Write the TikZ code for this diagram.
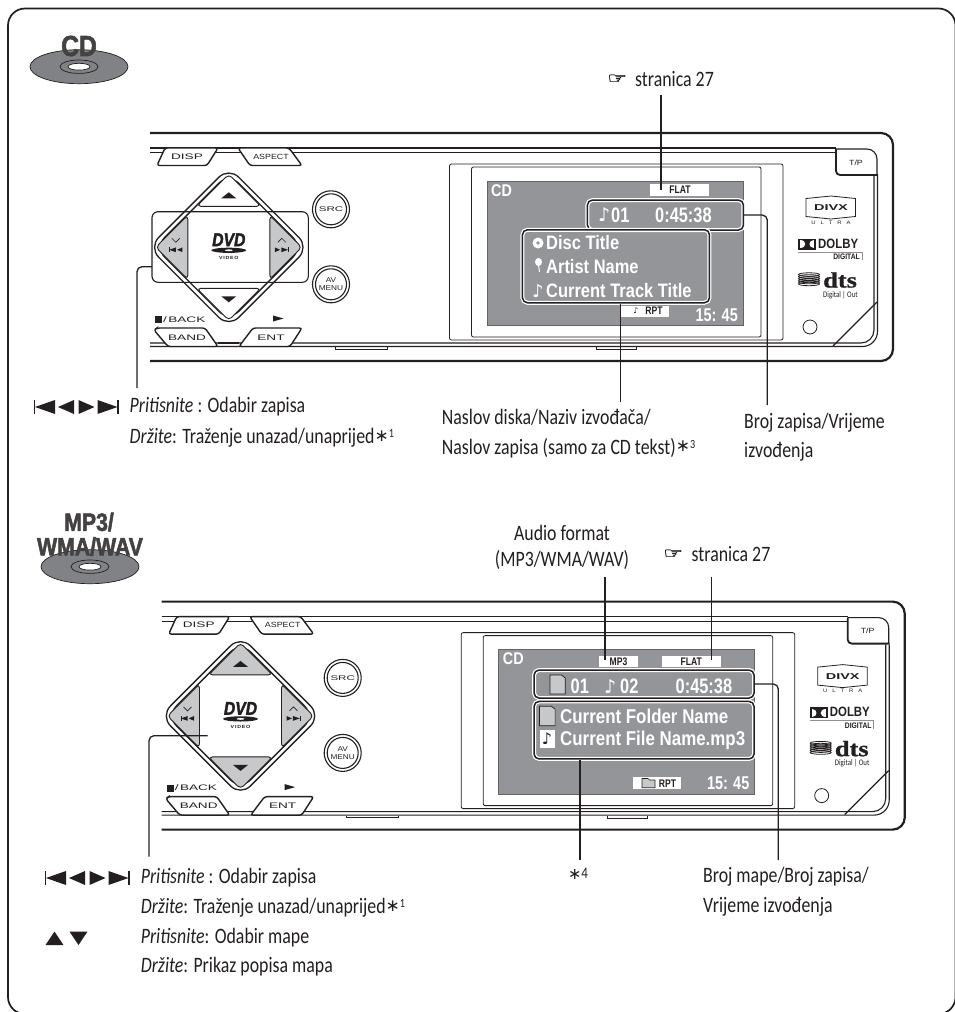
\documentclass[tikz,border=0pt]{standalone}
\usepackage{fontspec}
\usepackage{xcolor}
\usetikzlibrary{calc}
\setmainfont[FakeStretch=0.81]{Carlito}
\newfontfamily\panelfont[FakeStretch=1.7]{Liberation Sans}
\newfontfamily\panelslim[FakeStretch=1.18]{Liberation Sans}
\newfontfamily\lcdfont[FakeStretch=0.845]{Liberation Sans}
\newfontfamily\lcdbig[FakeStretch=0.78]{Liberation Sans}
\newfontfamily\iconfont[FakeStretch=0.85,FakeBold=2]{Liberation Sans}
\newfontfamily\dtsfont[FakeStretch=1.2,FakeBold=1]{Liberation Serif}
\newfontfamily\symfont{DejaVu Sans}
\newfontfamily\handfont[FakeStretch=1.5,FakeBold=1.5]{DejaVu Sans}
\definecolor{lcd}{HTML}{939598}
\definecolor{btn}{HTML}{C7C8CA}
\definecolor{disc}{HTML}{808285}
\definecolor{ink}{HTML}{231F20}
\tikzset{
  body/.style={anchor=west,inner sep=0pt,text=ink,font=\fontsize{22}{24}\selectfont},
  panel/.style={inner sep=0pt,text=ink,font=\panelfont\fontsize{8}{9}\selectfont},
  panelsmall/.style={inner sep=0pt,text=ink,font=\panelslim\fontsize{7.5}{8.5}\selectfont},
  lcdtxt/.style={anchor=west,inner sep=0pt,text=white,font=\lcdfont\bfseries\fontsize{19.5}{21}\selectfont},
  lcdnum/.style={anchor=west,inner sep=0pt,text=white,font=\lcdbig\bfseries\fontsize{21}{21}\selectfont},
  tag/.style={inner sep=0pt,text=ink,font=\lcdbig\bfseries\fontsize{11}{11}\selectfont},
  tagbox/.style={fill=white,inner sep=0pt},
  infobox/.style={draw=ink,line width=1.5pt,rounded corners=5pt,inner sep=0pt,anchor=north west,
    preaction={draw=white,line width=4pt}},
  leader/.style={draw=ink,line width=1.3pt,rounded corners=5pt},
  softkey/.style={draw=ink,fill=white,line width=1.4pt,rounded corners=2.5pt},
}
\newcommand{\skipback}{
  \fill (0,-7) rectangle (1.3,7);
  \fill (1,0) -- (21,-7) -- (21,7) -- cycle;
  \fill (24,0) -- (40,-7) -- (40,7) -- cycle;
}
\newcommand{\skipnext}{
  \fill (40,-7) rectangle (38.7,7);
  \fill (39,0) -- (19,-7) -- (19,7) -- cycle;
  \fill (16,0) -- (0,-7) -- (0,7) -- cycle;
}
\newcommand{\starmark}[1]{\raisebox{2.5pt}{\symfont\fontsize{17}{18}\selectfont ∗}\raisebox{6pt}{\fontsize{12.5}{13}\selectfont #1}}
\newcommand{\folder}[3]{
  \fill[btn,draw=ink,line width=0.7pt] (#1,#2) -- (#1,{#2-#3}) -- ({#1+0.6*#3},{#2-#3}) -- ({#1+0.8*#3},{#2-0.85*#3}) -- ({#1+0.8*#3},#2) -- cycle;
}
% faceplate shared by both pictures, #1 = fill of the up/down keys
\newcommand{\headunit}[1]{
  % outer shell
  \draw[ink,line width=2.2pt,rounded corners=12pt] (150,133) -- (893,133) -- (893,361) -- (150,361);
  \draw[ink,line width=1.1pt] (150,148) -- (836,148);
  \draw[ink,line width=1.1pt] (150,152.5) -- (836,152.5);
  \draw[ink,line width=1.1pt,rounded corners=13pt] (150,343) -- (874,343) -- (874,176);
  \draw[ink,line width=1.1pt,rounded corners=15pt] (150,346.5) -- (877.5,346.5) -- (877.5,176);
  \draw[ink,line width=0.8pt] (335,347) -- (335,349) -- (387,349) -- (387,347);
  \draw[ink,line width=0.8pt] (596,347) -- (596,349.5) -- (636,349.5) -- (636,347);
  \draw[ink,line width=1.3pt] (833,346) -- (877,302);
  % T/P key
  \fill[white] (836,149) rectangle (877,175);
  \draw[ink,line width=1.1pt,rounded corners=10pt] (836,149) -- (877,149) -- (877,175);
  \draw[ink,line width=1.8pt,rounded corners=4pt] (836,149) -- (836,175) -- (878,175);
  \node[panelsmall] (tpkey) at (856,162.5) {T/P};
  % soft keys
  \draw[softkey] (165,148) -- (218,148) -- (207,165.5) -- (157,165.5) -- cycle;
  \draw[softkey] (238,148) -- (289,148) -- (302,165.5) -- (250,165.5) -- cycle;
  \draw[softkey] (157,328) -- (205,328) -- (218,346.5) -- (168,346.5) -- (154,330) -- cycle;
  \draw[softkey] (253,328) -- (302,328) -- (290,346.5) -- (239,346.5) -- cycle;
  \draw[ink,line width=1.1pt] (218,343) -- (239,343);
  \node[panel] (dispkey) at (187,156.5) {DISP};
  \node[panelsmall] (aspectkey) at (271,156.5) {ASPECT};
  \node[panel] (bandkey) at (187,337.5) {BAND};
  \node[panel] (entkey) at (271,337.5) {ENT};
  \fill[ink] (155,316) rectangle (162,323);
  \node[panel,anchor=west] (backkey) at (163,319.5) {/\,BACK};
  \fill[ink] (273,315.5) -- (283.5,318.5) -- (273,321.5) -- cycle;
  % round keys
  \foreach \name/\ypos in {srckey/209.3,avkey/284.3}{
    \draw[ink,line width=1.1pt] (331,\ypos) circle (18.5);
    \draw[ink,line width=1.1pt] (331,\ypos) circle (15.5);
  }
  \node[panelsmall,font=\panelfont\fontsize{6.8}{7}\selectfont] (srclabel) at (331,209.3) {SRC};
  \node[panelsmall,align=center,font=\panelslim\fontsize{7}{8.5}\selectfont] (avlabel) at (331,284.3) {AV\\[-1pt]MENU};
  % arrow pad
  \begin{scope}[shift={(228.8,247.3)}]
    \draw[ink,line width=1.3pt,rounded corners=14pt] (0,-80) -- (80,0) -- (0,80) -- (-80,0) -- cycle;
    \draw[ink,line width=1.3pt,rounded corners=14pt] (0,-74) -- (74,0) -- (0,74) -- (-74,0) -- cycle;
    \draw[ink,fill=#1,line width=0.9pt,rounded corners=4pt] (-32,-41) -- (0,-73) -- (32,-41) -- cycle;
    \draw[ink,fill=#1,line width=0.9pt,rounded corners=4pt] (-32,41) -- (0,73) -- (32,41) -- cycle;
    \draw[ink,fill=btn,line width=0.9pt,rounded corners=4pt] (-41,-32) -- (-73,0) -- (-41,32) -- cycle;
    \draw[ink,fill=btn,line width=0.9pt,rounded corners=4pt] (41,-32) -- (73,0) -- (41,32) -- cycle;
    \fill[ink] (0,-55) -- (7.5,-49) -- (-7.5,-49) -- cycle;
    \fill[ink] (0,55) -- (7.5,49) -- (-7.5,49) -- cycle;
    \draw[ink,line width=0.6pt] (-57,-9) -- (-53,-5) -- (-49,-9);
    \draw[ink,line width=0.6pt] (57,-5) -- (53,-9) -- (49,-5);
    \begin{scope}[shift={(-60,2.5)},scale=0.34,ink]\skipback\end{scope}
    \begin{scope}[shift={(46,2.5)},scale=0.34,ink]\skipnext\end{scope}
    % logo
    \node[inner sep=0pt,text=ink,font=\iconfont\bfseries\itshape\fontsize{18.5}{18}\selectfont] (dvdlogo) at (0,-7.5) {DVD};
    \fill[ink] (0,3) ellipse (17.5 and 2.6);
    \fill[white] (0,3) ellipse (4 and 0.9);
    \node[panelsmall,font=\panelslim\bfseries\fontsize{4.5}{5}\selectfont] (videologo) at (0,11) {V\,I\,D\,E\,O};
  \end{scope}
  % logos on the right
  \draw[ink,line width=0.8pt] (806,198.5) -- (831,196) -- (855.5,198.5) -- (855.5,216.5) -- (831,219) -- (806,216.5) -- cycle;
  \node[inner sep=0pt,text=ink,font=\panelfont\bfseries\fontsize{8.5}{9}\selectfont] (divxlogo) at (831,207.5) {DIVX};
  \node[inner sep=0pt,text=ink,font=\panelslim\fontsize{5}{5}\selectfont] (ultralogo) at (831,222.5) {U\hspace{5pt}L\hspace{5pt}T\hspace{5pt}R\hspace{5pt}A};
  \fill[ink] (798,238.5) rectangle (816,249.5);
  \fill[white] (800,240) .. controls (806.5,240) and (806.5,248) .. (800,248) -- cycle;
  \fill[white] (814,240) .. controls (807.5,240) and (807.5,248) .. (814,248) -- cycle;
  \node[anchor=west,inner sep=0pt,text=ink,font=\lcdfont\bfseries\fontsize{13.5}{13}\selectfont] (dolbylogo) at (818,243.5) {DOLBY};
  \draw[ink!50,line width=0.6pt] (798,252) -- (862,252) -- (862,260);
  \node[anchor=east,inner sep=0pt,text=ink,font=\lcdfont\bfseries\fontsize{8}{8}\selectfont] (digitallogo) at (860,257) {DIGITAL};
  \foreach \i in {0,...,5}{
    \draw[ink,line width=0.8pt] (809,{274.5+\i*1.9}) ellipse (10.5 and 1.7);
  }
  \node[anchor=west,inner sep=0pt,text=ink,font=\dtsfont\bfseries\fontsize{22}{22}\selectfont] (dtslogo) at (823,280) {dts};
  \node[anchor=west,inner sep=0pt,text=ink,font=\fontsize{8.5}{8}\selectfont] (digitalout) at (823,295) {Digital | Out};
  \draw[ink,line width=0.8pt] (810,327) circle (7);
  % window and display
  \draw[ink,line width=0.8pt,rounded corners=2pt] (449.5,164) rectangle (783,340);
  \draw[ink,line width=0.8pt,rounded corners=2pt] (471.5,167) rectangle (761,337);
  \fill[lcd,draw=ink!70,line width=0.5pt] (487,181) rectangle (743,325.5);
  \node[anchor=west,inner sep=0pt,text=white,font=\lcdfont\bfseries\fontsize{17}{17}\selectfont] (lcdsource) at (491,190.5) {CD};
}
\begin{document}
\begin{tikzpicture}[x=1pt,y=-1pt]
\useasboundingbox (0,0) rectangle (954,1012);
\fill[white] (0,0) rectangle (954,1012);
\draw[ink,line width=1.7pt,rounded corners=17pt] (8,8.5) rectangle (955.5,1014);

% disc marks
\foreach \cx/\cy in {79/66.7,90/566.7}{
  \draw[ink,fill=disc,line width=0.7pt] (\cx,\cy) ellipse (49 and 17);
  \draw[ink,line width=0.7pt] (\cx,\cy) ellipse (19 and 6.7);
  \draw[ink,fill=white,line width=0.7pt] (\cx,\cy) ellipse (11 and 3.4);
}
\node[inner sep=0pt,text=ink!85,font=\iconfont\bfseries\fontsize{29}{29}\selectfont] (cdmark) at (79,46) {CD};
\node[inner sep=0pt,text=ink!85,font=\iconfont\bfseries\fontsize{25}{25}\selectfont] (mp3mark) at (89,522) {MP3/};
\node[inner sep=0pt,text=ink!85,font=\iconfont\bfseries\fontsize{25}{25}\selectfont] (wmamark) at (90,546.5) {WMA/WAV};

% first unit, CD
\headunit{white}
\draw[ink,line width=1.1pt,rounded corners=6pt] (152,211.7) rectangle (308.3,282.3);
\node[tagbox,minimum width=59pt,minimum height=12pt] (flat1) at (679.5,190) {};
\node[tag] (flattxt1) at (680,190) {FLAT};
\node[infobox,minimum width=156pt,minimum height=30pt] (track1) at (586.7,199.3) {};
\node[infobox,minimum width=187pt,minimum height=73pt] (title1) at (521.7,229) {};
\node[lcdtxt,font=\symfont\fontsize{19}{19}\selectfont] (tracknote1) at (598,215) {♪};
\node[lcdnum] (tracknum1) at (611,215) {01};
\node[lcdnum] (tracktime1) at (655,215) {0:45:38};
\fill[white] (538,243) circle (5.5);
\fill[lcd] (538,243) circle (1.8);
\fill[white] (538.5,262) ellipse (3.5 and 4);
\draw[white,line width=1pt] (538.5,265) -- (539.5,272);
\node[lcdtxt] (disctxt) at (546,243) {Disc Title};
\node[lcdtxt] (artisttxt) at (546,267) {Artist Name};
\node[lcdtxt,font=\symfont\fontsize{18}{18}\selectfont] (titlenote) at (532,291) {♪};
\node[lcdtxt] (currenttxt) at (546,291) {Current Track Title};
\node[tagbox,minimum width=49pt,minimum height=11pt] (rpt1) at (644.5,311) {};
\node[tag,font=\symfont\fontsize{8}{8}\selectfont] (rptnote1) at (636,311) {♪};
\node[tag] (rpttxt1) at (654,311) {RPT};
\node[lcdnum,anchor=east,font=\lcdbig\bfseries\fontsize{18.5}{19}\selectfont] (clock1) at (738,315) {15: 45};

% second unit, files
\begin{scope}[shift={(11.7,468.6)}]
\headunit{btn}
\end{scope}
\node[tagbox,minimum width=38.5pt,minimum height=11pt] (mp3tag) at (618.5,661.2) {};
\node[tag] (mp3txt) at (618.5,661.5) {MP3};
\node[tagbox,minimum width=59pt,minimum height=11pt] (flat2) at (691.3,661.2) {};
\node[tag] (flattxt2) at (691.3,661.5) {FLAT};
\node[infobox,minimum width=220pt,minimum height=28pt] (track2) at (533.3,669.3) {};
\node[infobox,minimum width=220pt,minimum height=57.5pt] (title2) at (533.3,700.7) {};
\folder{550}{694}{19}
\node[lcdnum] (foldernum) at (570.5,686.5) {01};
\node[lcdtxt,font=\symfont\fontsize{19}{19}\selectfont] (tracknote2) at (604,686.5) {♪};
\node[lcdnum] (tracknum2) at (620,686.5) {02};
\node[lcdnum] (tracktime2) at (675.5,686.5) {0:45:38};
\folder{539.5}{725.7}{19.5}
\fill[white] (539.5,730) rectangle (554.5,748);
\node[inner sep=0pt,text=ink,font=\symfont\fontsize{16}{16}\selectfont] (filenote) at (547,739) {♪};
\node[lcdtxt,font=\lcdfont\bfseries\fontsize{20}{21}\selectfont] (foldertxt) at (560,716) {Current Folder Name};
\node[lcdtxt,font=\lcdfont\bfseries\fontsize{20}{21}\selectfont] (filetxt) at (560,740) {Current File Name.mp3};
\node[tagbox,minimum width=48pt,minimum height=11.5pt] (rpt2) at (657,783) {};
\fill[btn,draw=ink,line width=0.6pt] (642,778.5) -- (648,778.5) -- (649.5,780) -- (655,780) -- (655,787.7) -- (642,787.7) -- cycle;
\node[tag] (rpttxt2) at (667.5,783.5) {RPT};
\node[lcdnum,anchor=east,font=\lcdbig\bfseries\fontsize{18.5}{19}\selectfont] (clock2) at (749.5,783) {15: 45};

% labels, first unit
\node[body] (hand1) at (607,79) {\handfont\fontsize{15}{15}\selectfont ☞};
\node[body] (page1) at (635,79) {stranica 27};
\begin{scope}[shift={(34,407)},ink]\skipback\end{scope}
\begin{scope}[shift={(78.5,407)},ink]\skipnext\end{scope}
\node[body] (press1) at (129.5,406.7) {\textit{Pritisnite} : Odabir zapisa};
\node[body] (hold1) at (129.5,438) {\textit{Držite}: Traženje unazad/unaprijed\starmark{1}};
\node[body] (disclabel1) at (441.7,417) {Naslov diska/Naziv izvođača/};
\node[body] (disclabel2) at (441.7,448) {Naslov zapisa (samo za CD tekst)\starmark{3}};
\node[body] (tracklabel1) at (744,423) {Broj zapisa/Vrijeme};
\node[body] (tracklabel2) at (744,452) {izvođenja};

% labels, second unit
\node[body,anchor=center] (formatlabel1) at (562,533) {Audio format};
\node[body,anchor=center] (formatlabel2) at (562,560) {(MP3/WMA/WAV)};
\node[body] (hand2) at (663,554) {\handfont\fontsize{15}{15}\selectfont ☞};
\node[body] (page2) at (691.5,554) {stranica 27};
\begin{scope}[shift={(45,878)},ink]\skipback\end{scope}
\begin{scope}[shift={(89.5,878)},ink]\skipnext\end{scope}
\fill[ink] (54.5,931.5) -- (63.5,945) -- (45.5,945) -- cycle;
\fill[ink] (78.5,945) -- (87.5,931.5) -- (69.5,931.5) -- cycle;
\node[body] (press2) at (140.7,877.7) {\textit{Pritisnite} : Odabir zapisa};
\node[body] (hold2) at (140.7,908) {\textit{Držite}: Traženje unazad/unaprijed\starmark{1}};
\node[body] (press3) at (140.7,937.7) {\textit{Pritisnite}: Odabir mape};
\node[body] (hold3) at (140.7,966.7) {\textit{Držite}: Prikaz popisa mapa};
\node[body,anchor=center,font=\fontsize{16}{16}\selectfont] (starfour) at (578,874) {\raisebox{-1pt}{\symfont\fontsize{16}{16}\selectfont ∗}4};
\node[body] (folderlabel1) at (703,877) {Broj mape/Broj zapisa/};
\node[body] (folderlabel2) at (703,906.7) {Vrijeme izvođenja};

% connectors
\coordinate (padedge1) at (152,266.7);
\coordinate (padend1) at (137,388);
\coordinate (flatstart1) at (661,95);
\coordinate (flatend1) at (661,190);
\coordinate (titleend1) at (620.7,402);
\coordinate (trackend1) at (767.3,405);
\coordinate (padedge2) at (207.7,735.7);
\coordinate (padend2) at (149,856.7);
\coordinate (mp3start) at (605,576.7);
\coordinate (mp3end) at (605,660);
\coordinate (flatstart2) at (711.7,576.7);
\coordinate (flatend2) at (711.7,660);
\coordinate (titleend2) at (580,860);
\coordinate (trackend2) at (778.3,860);
\draw[leader] (padedge1) -| (padend1);
\draw[leader] (flatstart1) -- (flatend1);
\draw[leader] (titleend1 |- title1.south) -- (titleend1);
\draw[leader] (track1.east) -| (trackend1);
\draw[leader] (padedge2) -| (padend2);
\draw[leader] (mp3start) -- (mp3end);
\draw[leader] (flatstart2) -- (flatend2);
\draw[leader] (titleend2 |- title2.south) -- (titleend2);
\draw[leader] (track2.east) -| (trackend2);
\end{tikzpicture}
\end{document}
